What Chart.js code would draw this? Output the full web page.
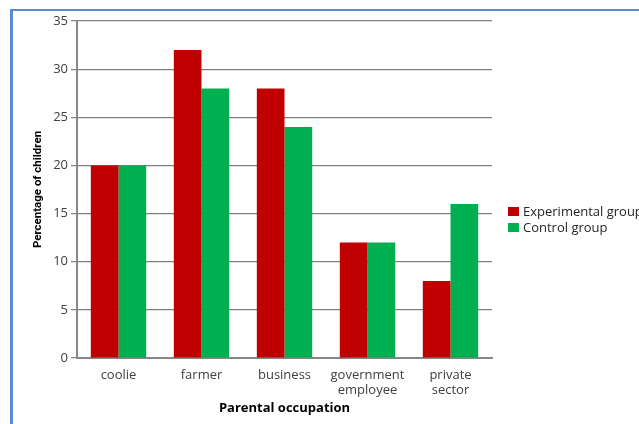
<!DOCTYPE html>
<html>
<head>
<meta charset="utf-8">
<script src="https://cdn.jsdelivr.net/npm/chart.js@4/dist/chart.umd.min.js"></script>
<style>
  html, body { margin: 0; padding: 0; background: #fff; overflow: hidden; }
  #wrap { position: relative; width: 639px; height: 424px; }
  #frame { position: absolute; left: 10px; top: 9px; width: 700px; height: 500px;
           border-top: 2px solid #5b8bd0; border-left: 3px solid #5b8bd0; }
  canvas { position: absolute; left: 0; top: 0; }
  #legend { position: absolute; left: 508px; top: 203px; font-family: "Open Sans", sans-serif;
            font-size: 13px; color: #262626; white-space: nowrap; line-height: 16px; }
  #legend .item { display: flex; align-items: center; }
  #legend .sw { width: 11px; height: 9px; margin-right: 4px; display: inline-block; }
</style>
</head>
<body>
<div id="wrap">
  <div id="frame"></div>
  <canvas id="c" width="639" height="424"></canvas>
  <div id="legend"></div>
</div>
<script>
const categories = [["coolie"], ["farmer"], ["business"], ["government", "employee"], ["private", "sector"]];
const experimentalGroup = [20, 32, 28, 12, 8];
const controlGroup = [20, 28, 24, 12, 16];
const seriesNames = ["Experimental group", "Control group"];
const seriesColors = ["#c00000", "#00b050"];
const yTicks = [0, 5, 10, 15, 20, 25, 30, 35];

const labelFont = { family: "'Open Sans', sans-serif", size: 13 };
const titleFont = { family: "'Open Sans', sans-serif", size: 13, weight: "bold" };

const chart = new Chart(document.getElementById("c"), {
  type: "bar",
  data: {
    labels: categories,
    datasets: [
      { label: seriesNames[0], data: experimentalGroup, backgroundColor: seriesColors[0] },
      { label: seriesNames[1], data: controlGroup, backgroundColor: seriesColors[1] }
    ]
  },
  options: {
    responsive: false,
    animation: false,
    layout: { padding: { left: 0, right: 147, top: 21, bottom: 0 } },
    plugins: { legend: { display: false }, tooltip: { enabled: false } },
    datasets: { bar: { categoryPercentage: 0.667, barPercentage: 1 } },
    scales: {
      x: {
        grid: { display: true, drawOnChartArea: false, drawTicks: false },
        border: { display: true, color: "#868686", width: 2 },
        ticks: { color: "#404040", font: labelFont, padding: 9, maxRotation: 0, autoSkip: false },
        title: { display: true, text: "Parental occupation", color: "#000", font: titleFont, padding: { top: 0, bottom: 8 } },
        afterFit: s => { s.height = 424 - 358; }
      },
      y: {
        min: 0, max: 35,
        afterBuildTicks: s => { s.ticks = yTicks.map(v => ({ value: v })); },
        grid: { color: "#808080", lineWidth: 1.2, tickLength: 6 },
        border: { display: true, color: "#868686", width: 2 },
        ticks: { color: "#404040", font: labelFont, padding: 3 },
        title: { display: true, text: "Percentage of children", color: "#000",
                 font: { family: "Roboto, sans-serif", size: 11.5, weight: "bold" },
                 padding: { top: 31, bottom: 0 } },
        afterFit: s => { s.width = 77; }
      }
    }
  }
});

// legend built from the chart's datasets
const legend = document.getElementById("legend");
chart.data.datasets.forEach(ds => {
  const item = document.createElement("div");
  item.className = "item";
  const sw = document.createElement("span");
  sw.className = "sw";
  sw.style.background = ds.backgroundColor;
  item.appendChild(sw);
  item.appendChild(document.createTextNode(ds.label));
  legend.appendChild(item);
});
</script>
</body>
</html>
